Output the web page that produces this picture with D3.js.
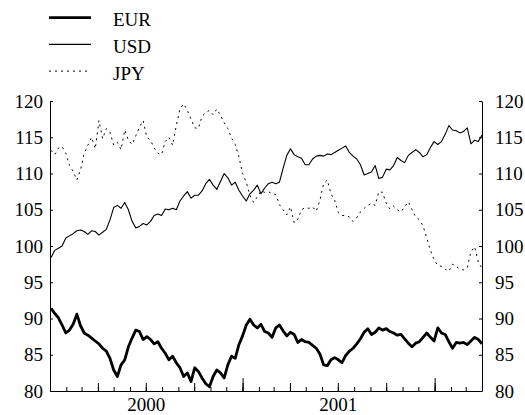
<!DOCTYPE html>
<html>
<head>
<meta charset="utf-8">
<script src="https://cdn.jsdelivr.net/npm/d3@7"></script>
<style>
  body { margin: 0; background: #fff; }
</style>
</head>
<body>
<div id="chart"></div>
<script>
/* CONSTANTS AND GLOBALS */
const width = 525,
  height = 415,
  margin = { top: 101, bottom: 24, left: 50, right: 43 };

const fontFamily = "'Liberation Serif', 'Times New Roman', Times, serif";
const fontSize = 19;

// weekly observations, Mondays from 3 Jan 2000 to 1 Apr 2002
const weeks = d3.timeMonday.range(new Date(2000, 0, 3), new Date(2002, 3, 2));

const eur = [
  91.4, 90.7, 90.1, 89.1, 88.0, 88.4, 89.2, 90.6, 89.0, 88.0, 87.7, 87.3, 86.9,
  86.5, 85.9, 85.5, 84.5, 82.9, 82.0, 83.6, 84.3, 86.1, 87.3, 88.4, 88.2, 87.1,
  87.5, 87.1, 86.5, 86.8, 85.9, 85.2, 84.3, 84.8, 83.9, 83.2, 82.0, 82.5, 81.3,
  83.2, 82.7, 81.8, 81.0, 80.6, 82.0, 82.9, 82.5, 81.8, 83.6, 84.8, 84.5, 86.4,
  87.6, 89.1, 89.9, 89.1, 88.7, 89.2, 88.2, 88.0, 87.4, 88.7, 89.1, 88.3, 87.6,
  88.1, 87.8, 86.7, 87.1, 86.8, 86.7, 86.3, 85.9, 85.1, 83.6, 83.5, 84.3, 84.6,
  84.3, 83.9, 84.9, 85.5, 85.9, 86.5, 87.2, 88.1, 88.6, 87.8, 88.1, 88.7, 88.4,
  88.6, 88.2, 88.0, 87.7, 87.8, 87.2, 86.6, 86.1, 86.6, 86.8, 87.4, 88.0, 87.4,
  86.9, 88.7, 88.0, 87.8, 86.8, 85.9, 86.7, 86.6, 86.7, 86.4, 86.9, 87.4, 87.1,
  86.5
];

const usd = [
  98.4, 99.4, 99.7, 100.0, 101.1, 101.4, 101.7, 102.1, 102.2, 102.0, 101.6, 102.1, 102.0,
  101.5, 101.9, 102.3, 103.6, 105.3, 105.6, 105.2, 106.0, 105.0, 103.4, 102.5, 102.7, 103.1,
  102.9, 103.4, 104.2, 104.4, 104.2, 105.1, 105.0, 105.2, 105.0, 106.2, 106.9, 107.5, 106.6,
  107.0, 107.0, 107.6, 108.6, 109.2, 108.4, 107.8, 108.9, 110.0, 109.4, 108.4, 108.8, 107.7,
  106.9, 106.2, 107.2, 107.7, 108.4, 107.2, 108.0, 108.6, 108.8, 108.6, 108.8, 110.7, 112.5,
  113.4, 112.6, 112.3, 112.1, 111.2, 111.2, 112.0, 112.4, 112.5, 112.4, 112.7, 112.6, 112.9,
  113.2, 113.5, 113.8, 112.9, 112.4, 112.0, 111.2, 109.8, 110.0, 110.2, 111.1, 109.3, 109.5,
  110.6, 110.5, 111.1, 112.2, 111.8, 111.5, 112.5, 112.9, 113.3, 112.9, 112.3, 112.6, 113.6,
  114.4, 114.0, 114.4, 115.4, 116.6, 116.0, 115.9, 115.6, 115.8, 116.3, 114.1, 114.6, 114.4,
  115.3
];

const jpy = [
  113.2, 112.6, 113.5, 113.7, 112.8, 111.1, 110.3, 109.1, 110.5, 112.8, 113.9, 115.0, 113.4,
  117.3, 114.8, 116.2, 115.7, 113.9, 114.3, 113.3, 116.0, 114.6, 114.0, 115.2, 116.4, 117.3,
  115.0, 114.6, 113.5, 112.8, 112.6, 114.4, 115.0, 113.9, 116.6, 118.9, 119.6, 118.7, 117.5,
  116.3, 116.2, 117.9, 118.4, 118.7, 118.1, 118.9, 118.0, 117.0, 116.2, 114.9, 114.0, 112.3,
  110.0, 108.8, 107.0, 106.0, 106.8, 107.6, 107.4, 107.5, 107.2, 107.1, 105.7, 105.0, 104.3,
  105.4, 103.2, 103.7, 105.0, 105.3, 105.2, 105.4, 104.8, 106.3, 108.6, 109.1, 107.2, 106.3,
  104.6, 104.2, 104.2, 104.0, 103.4, 103.9, 104.7, 105.2, 105.6, 105.9, 105.6, 107.5, 107.4,
  105.9, 105.1, 105.5, 105.0, 104.7, 105.4, 106.1, 105.0, 104.0, 103.6, 102.8, 101.1, 99.4,
  98.1, 97.3, 97.2, 96.8, 96.5, 97.5, 97.2, 96.8, 96.7, 97.0, 99.2, 99.9, 97.8,
  96.9
];

const seriesNames = ["EUR", "USD", "JPY"];
const yTicks = [80, 85, 90, 95, 100, 105, 110, 115, 120];
const yearLabels = [new Date(2000, 6, 1), new Date(2001, 6, 1)];

const styles = {
  EUR: { width: 2.8, dash: null },
  USD: { width: 1.1, dash: null },
  JPY: { width: 1, dash: "2,4" }
};

const seriesData = { EUR: eur, USD: usd, JPY: jpy };

/* SCALES */
const xScale = d3.scaleTime()
  .domain([new Date(2000, 0, 1), new Date(2002, 3, 1)])
  .range([margin.left, width - margin.right]);

const yScale = d3.scaleLinear()
  .domain([80, 120])
  .range([height - margin.bottom, margin.top]);

const svg = d3.select("#chart")
  .append("svg")
  .attr("width", width)
  .attr("height", height)
  .attr("font-family", fontFamily);

/* LINES */
const lineGen = d3.line()
  .x((d, i) => xScale(weeks[i]))
  .y(d => yScale(d));

svg.selectAll("path.series")
  .data(seriesNames)
  .join("path")
  .attr("class", "series")
  .attr("fill", "none")
  .attr("stroke", "#000")
  .attr("stroke-linejoin", "round")
  .attr("stroke-width", d => styles[d].width)
  .attr("stroke-dasharray", d => styles[d].dash)
  .attr("d", d => lineGen(seriesData[d]));

/* AXES */
const bottomY = height - margin.bottom;

function styleText(g) {
  g.attr("font-family", fontFamily).attr("font-size", fontSize);
  g.selectAll("text").attr("fill", "#000");
}

// monthly small ticks + axis line
svg.append("g")
  .attr("transform", `translate(0, ${bottomY})`)
  .call(d3.axisBottom(xScale)
    .ticks(d3.timeMonth.every(1))
    .tickSize(-4).tickSizeOuter(0).tickFormat(""));

// quarterly ticks
svg.append("g")
  .attr("transform", `translate(0, ${bottomY})`)
  .call(d3.axisBottom(xScale)
    .ticks(d3.timeMonth.every(3))
    .tickSize(-8).tickSizeOuter(0).tickFormat(""))
  .call(g => g.select(".domain").remove());

// yearly ticks
svg.append("g")
  .attr("transform", `translate(0, ${bottomY})`)
  .call(d3.axisBottom(xScale)
    .ticks(d3.timeYear.every(1))
    .tickSize(-13).tickSizeOuter(0).tickFormat(""))
  .call(g => g.select(".domain").remove());

// year labels in the middle of each year
svg.append("g")
  .attr("transform", `translate(0, ${bottomY})`)
  .call(d3.axisBottom(xScale)
    .tickValues(yearLabels)
    .tickSize(0).tickPadding(7)
    .tickFormat(d3.timeFormat("%Y")))
  .call(g => g.select(".domain").remove())
  .call(styleText);

svg.append("g")
  .attr("transform", `translate(${margin.left}, 0)`)
  .call(d3.axisLeft(yScale)
    .tickValues(yTicks)
    .tickSize(-3).tickSizeOuter(0).tickPadding(7))
  .call(styleText);

svg.append("g")
  .attr("transform", `translate(${width - margin.right}, 0)`)
  .call(d3.axisRight(yScale)
    .tickValues(yTicks)
    .tickSize(-3).tickSizeOuter(0).tickPadding(13))
  .call(styleText);

/* LEGEND */
const legend = svg.selectAll("g.legend")
  .data(seriesNames)
  .join("g")
  .attr("class", "legend")
  .attr("transform", (d, i) => `translate(49, ${17.7 + i * 26.7})`);

legend.append("line")
  .attr("x1", 0)
  .attr("x2", 42)
  .attr("stroke", "#000")
  .attr("stroke-width", d => styles[d].width)
  .attr("stroke-dasharray", d => styles[d].dash);

legend.append("text")
  .attr("x", 64)
  .attr("y", 8.5)
  .attr("font-size", fontSize)
  .text(d => d);
</script>
</body>
</html>
